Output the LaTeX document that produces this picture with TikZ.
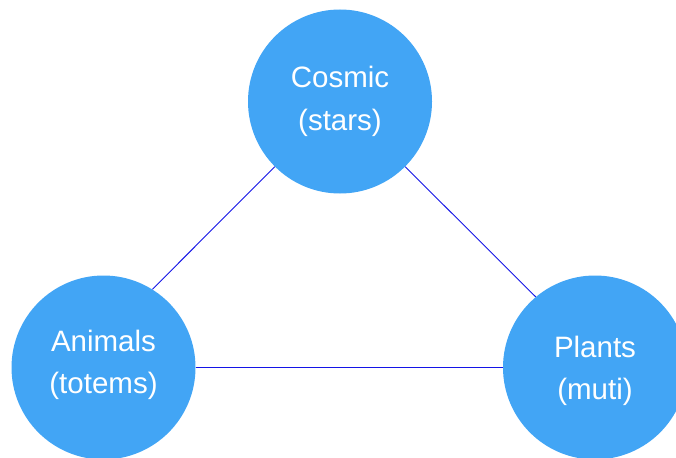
\documentclass[tikz,border=0pt]{standalone}
\usepackage{fontspec}
\setmainfont{Liberation Sans}
\definecolor{circfill}{RGB}{66,165,245}
\definecolor{linkblue}{RGB}{20,20,230}
\begin{document}
\begin{tikzpicture}[x=1pt,y=-1pt,
  bubble/.style={circle,fill=circfill,draw=none,minimum size=184pt,inner sep=0pt,
    text=white,align=center,font=\fontsize{29.5}{42.5}\selectfont},
  link/.style={draw=linkblue,line width=0.9pt}]
\useasboundingbox (0,0) rectangle (676,457);
\node[bubble] (cosmic) at (340,101.5) {Cosmic\\(stars)};
\node[bubble] (animals) at (103.5,367.5) {\raisebox{-2.9pt}[0pt][0pt]{\begin{tabular}{@{}c@{}}Animals\\[-0.5pt](totems)\end{tabular}}};
\node[bubble] (plants) at (595,367.5) {\raisebox{-8.4pt}[0pt][0pt]{\begin{tabular}{@{}c@{}}Plants\\[-0.5pt](muti)\end{tabular}}};
\draw[link] (cosmic.south west) -- (animals.58.5);
\draw[link] (cosmic.south east) -- (plants.130.2);
\draw[link] (animals.east) -- (plants.west);
\end{tikzpicture}
\end{document}
